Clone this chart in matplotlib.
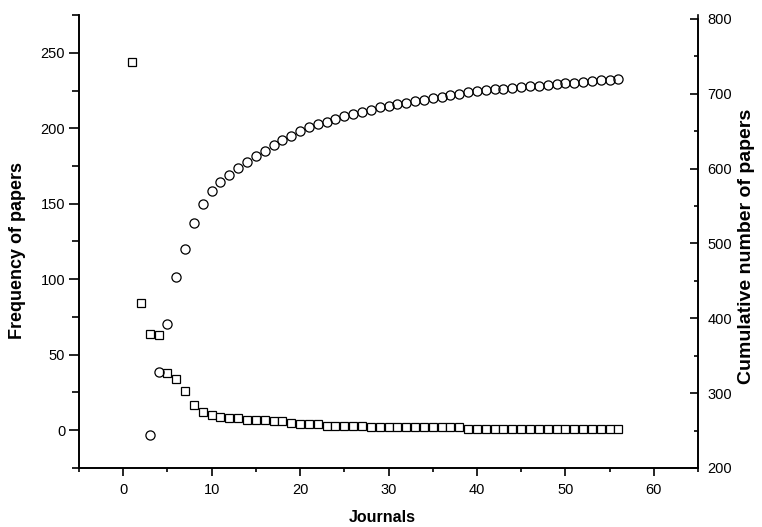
import matplotlib.pyplot as plt
from matplotlib.ticker import MultipleLocator

plt.rcParams['font.family'] = ['Liberation Sans', 'DejaVu Sans']

# frequency of papers per journal (squares, left axis)
journal_idx = list(range(1, 57))
freq = [244, 84, 64, 63, 38, 34, 26, 17, 12, 10, 9, 8, 8, 7, 7, 7, 6, 6, 5,
        4, 4, 4, 3, 3, 3, 3, 3, 2, 2, 2, 2, 2, 2, 2, 2, 2, 2, 2,
        1, 1, 1, 1, 1, 1, 1, 1, 1, 1, 1, 1, 1, 1, 1, 1, 1, 1]

# cumulative number of papers (circles, right axis)
cum_idx = list(range(3, 57))
cum = [244, 328, 392, 455, 493, 527, 553, 570, 582, 592, 601, 609, 617, 624,
       631, 638, 644, 650, 655, 659, 663, 667, 670, 673, 676, 679, 682, 684,
       686, 688, 690, 692, 694, 696, 698, 700, 702, 704, 705, 706, 707, 708,
       709, 710, 711, 712, 713, 714, 715, 716, 717, 718, 719, 720]

fig = plt.figure(figsize=(7.62, 5.27), dpi=100)
ax = fig.add_axes([0.1037, 0.112, 0.8123, 0.8595])
ax2 = ax.twinx()

ax.plot(journal_idx, freq, 's', ms=5.5, mfc='white', mec='black', mew=0.9,
        zorder=3)
ax2.plot(cum_idx, cum, 'o', ms=6.6, mfc='none', mec='black', mew=0.9)

ax.set_xlim(-5, 65)
ax.set_ylim(-25, 275)
ax2.set_ylim(200, 805.3)

for a in (ax, ax2):
    a.spines['top'].set_visible(False)
    for s in a.spines.values():
        s.set_linewidth(1.2)
ax2.spines['right'].set_bounds(200, 800)

ax.xaxis.set_major_locator(MultipleLocator(10))
ax.xaxis.set_minor_locator(MultipleLocator(5))
ax.yaxis.set_major_locator(MultipleLocator(50))
ax.yaxis.set_minor_locator(MultipleLocator(25))
ax2.yaxis.set_major_locator(MultipleLocator(100))
ax2.yaxis.set_minor_locator(MultipleLocator(50))

ax.tick_params(axis='x', which='major', direction='out', length=6, width=1.2,
               pad=5, labelsize=10.5)
ax.tick_params(axis='x', which='minor', direction='out', length=3, width=1.2)
ax.tick_params(axis='y', which='major', direction='out', length=7, width=1.2,
               pad=3, labelsize=10.5)
ax.tick_params(axis='y', which='minor', direction='out', length=5, width=1.2)
ax2.tick_params(axis='y', which='major', direction='in', length=6, width=1.2,
                pad=7, labelsize=10.5)
ax2.tick_params(axis='y', which='minor', direction='in', length=3, width=1.2)

ax.set_xlabel('Journals', fontsize=11.5, weight='bold')
ax.set_ylabel('Frequency of papers', fontsize=13, weight='bold')
ax2.set_ylabel('Cumulative number of papers', fontsize=14, weight='bold')
ax.xaxis.set_label_coords(0.490, -0.092)
ax.yaxis.set_label_coords(-0.086, 0.481)
ax2.yaxis.set_label_coords(1.065, 0.49)

plt.savefig('out.png', dpi=100)
